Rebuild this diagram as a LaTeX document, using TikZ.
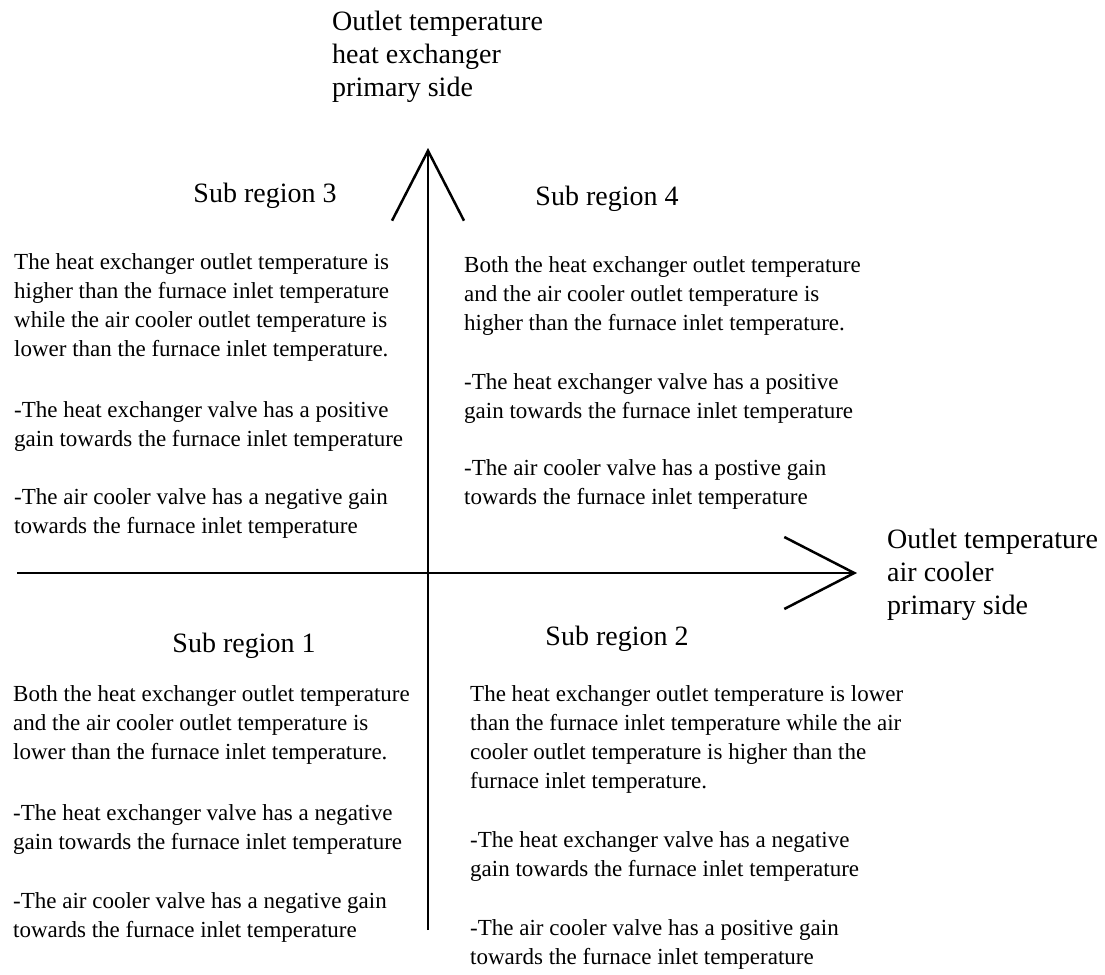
\documentclass[tikz,border=0pt]{standalone}
\usepackage{fontspec}
\setmainfont{Liberation Serif}
\usetikzlibrary{arrows.meta}

\begin{document}
\begin{tikzpicture}[x=1pt,y=-1pt,
  axis/.style={line width=2.5pt,-{Straight Barb[length=70pt,width=72pt,line width=2.5pt]}},
  region/.style={font=\fontsize{28}{33}\selectfont,inner sep=0pt},
  axislabel/.style={font=\fontsize{28}{33}\selectfont,align=left,anchor=north west,inner sep=0pt},
  txt/.style={font=\fontsize{23}{29}\selectfont,align=left,anchor=north west,inner sep=0pt}]
\useasboundingbox (0,0) rectangle (1105,974);
\coordinate (left) at (17,573);
\coordinate (right) at (857,573);
\coordinate (bottom) at (428,930);
\coordinate (top) at (428,148);
\draw[axis] (left) -- (right);
\draw[axis] (bottom) -- (top);
\node[axislabel] (ylabel) at (332,11) {Outlet temperature\\heat exchanger\\primary side};
\node[axislabel] (xlabel) at (887,529) {Outlet temperature\\air cooler\\primary side};
\node[region] (sub3) at (265,196) {Sub region 3};
\node[region] (sub4) at (607,199) {Sub region 4};
\node[region] (sub1) at (244,646) {Sub region 1};
\node[region] (sub2) at (617,639) {Sub region 2};
\node[txt] (text3) at (14,253) {The heat exchanger outlet temperature is\\higher than the furnace inlet temperature\\while the air cooler outlet temperature is\\lower than the furnace inlet temperature.\\[32pt]-The heat exchanger valve has a positive\\gain towards the furnace inlet temperature\\[29pt]-The air cooler valve has a negative gain\\towards the furnace inlet temperature};
\node[txt] (text4) at (464,256) {Both the heat exchanger outlet temperature\\and the air cooler outlet temperature is\\higher than the furnace inlet temperature.\\[30pt]-The heat exchanger valve has a positive\\gain towards the furnace inlet temperature\\[28pt]-The air cooler valve has a postive gain\\towards the furnace inlet temperature};
\node[txt] (text1) at (13,685) {Both the heat exchanger outlet temperature\\and the air cooler outlet temperature is\\lower than the furnace inlet temperature.\\[32pt]-The heat exchanger valve has a negative\\gain towards the furnace inlet temperature\\[30pt]-The air cooler valve has a negative gain\\towards the furnace inlet temperature};
\node[txt] (text2) at (470,685) {The heat exchanger outlet temperature is lower\\than the furnace inlet temperature while the air\\cooler outlet temperature is higher than the\\furnace inlet temperature.\\[30pt]-The heat exchanger valve has a negative\\gain towards the furnace inlet temperature\\[30pt]-The air cooler valve has a positive gain\\towards the furnace inlet temperature};
\end{tikzpicture}
\end{document}
